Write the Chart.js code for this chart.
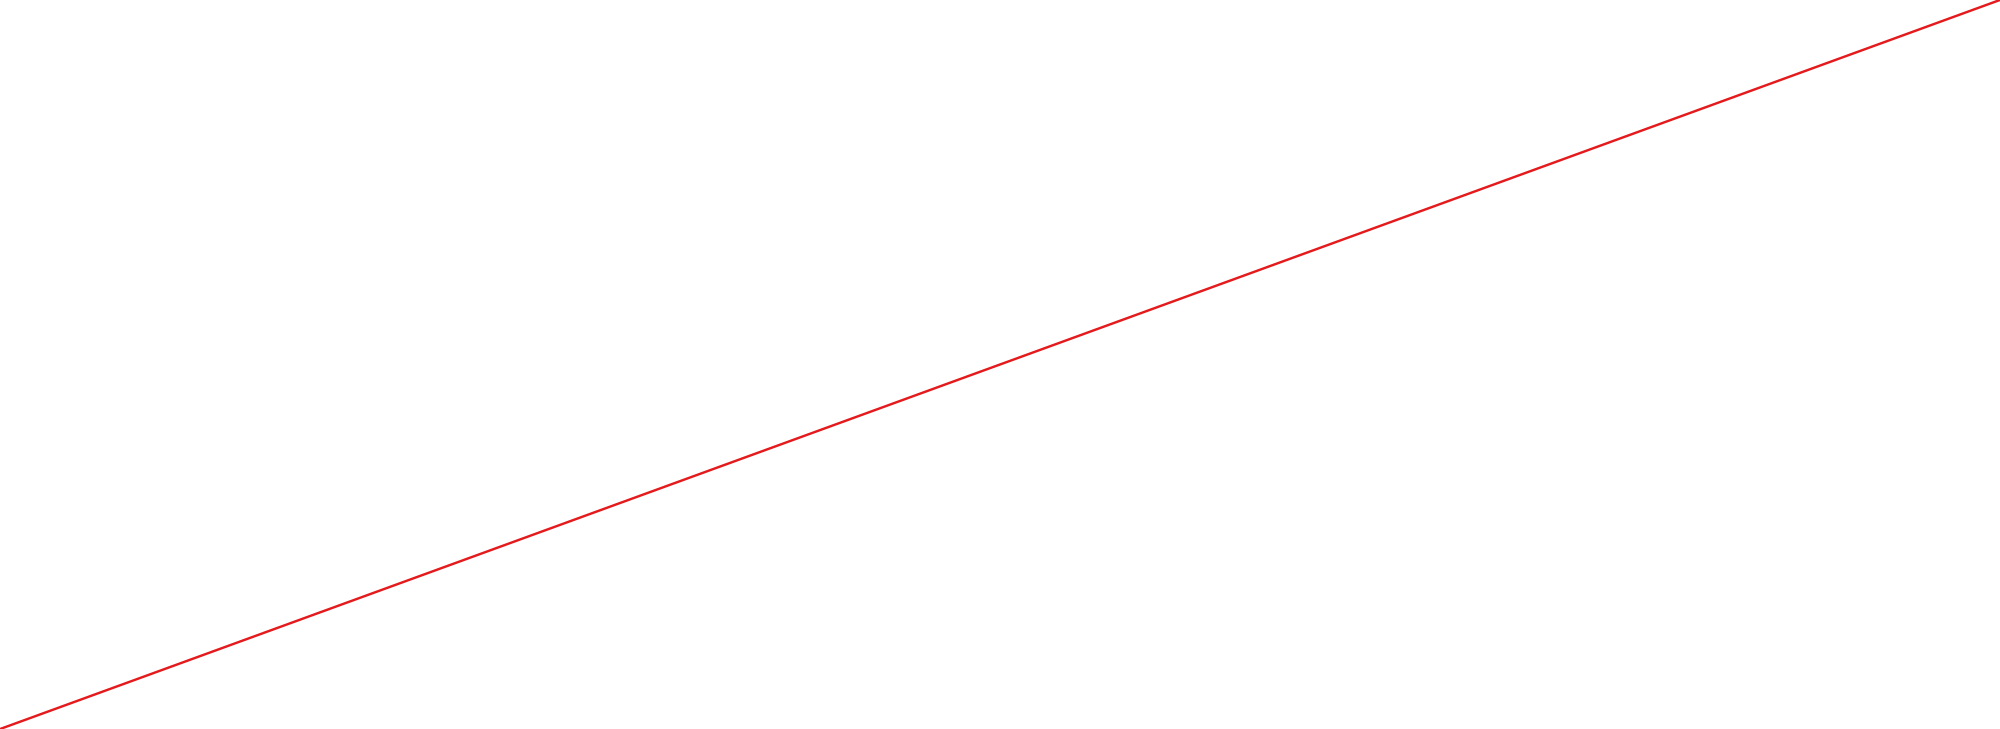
<!DOCTYPE html>
<html>
<head>
<meta charset="utf-8">
<script src="https://cdn.jsdelivr.net/npm/chart.js@4/dist/chart.umd.min.js"></script>
<style>
html,body{margin:0;padding:0;background:#fff;overflow:hidden;}
#wrap{width:2000px;height:729px;position:relative;}
</style>
</head>
<body>
<div id="wrap"><canvas id="c"></canvas></div>
<script>
const xValues = [0, 1];
const yValues = [0, 1];
const lineColor = '#e41a1c';

new Chart(document.getElementById('c'), {
  type: 'line',
  data: {
    datasets: [{
      data: xValues.map((x, i) => ({x: x, y: yValues[i]})),
      borderColor: lineColor,
      borderWidth: 2.5,
      pointRadius: 0,
      fill: false,
      tension: 0,
      clip: false
    }]
  },
  options: {
    responsive: true,
    maintainAspectRatio: false,
    animation: false,
    layout: {padding: 0},
    plugins: {legend: {display: false}, tooltip: {enabled: false}},
    scales: {
      x: {type: 'linear', min: 0, max: 1, display: false},
      y: {type: 'linear', min: 0, max: 1, display: false}
    }
  }
});
</script>
</body>
</html>
